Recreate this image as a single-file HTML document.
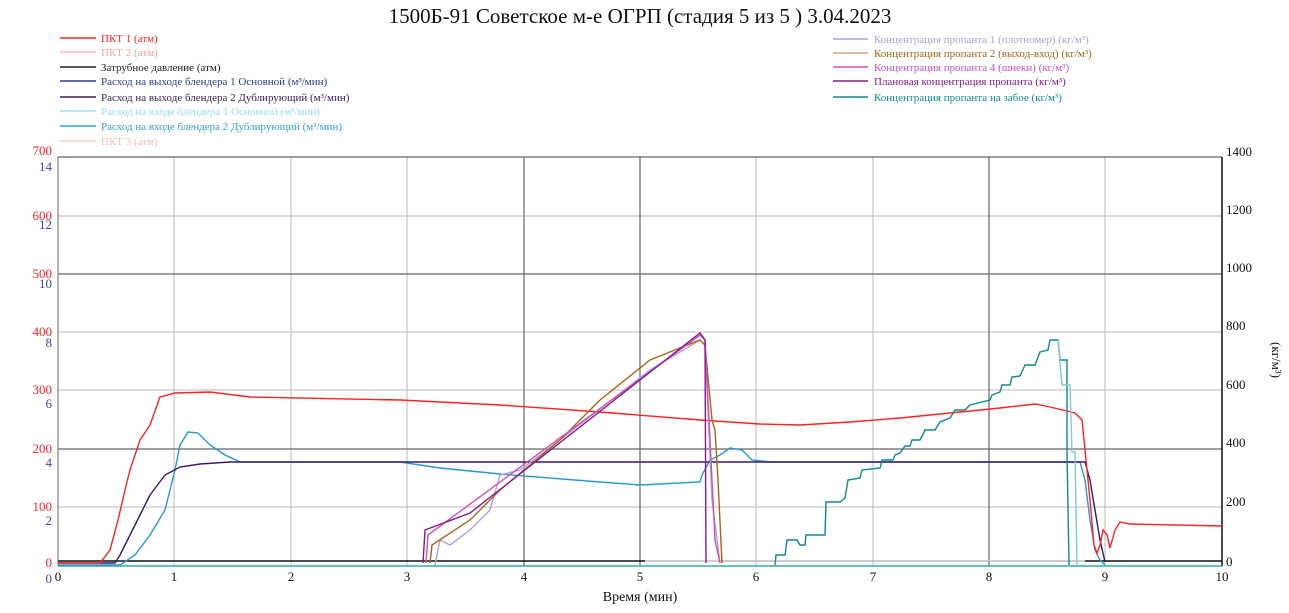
<!DOCTYPE html>
<html><head><meta charset="utf-8"><style>
body{margin:0;background:#fff;}
svg text{font-family:"Liberation Serif",serif;}
</style></head><body>
<svg width="1289" height="608" xmlns="http://www.w3.org/2000/svg">
<text x="640" y="23" font-size="21" text-anchor="middle" fill="#111">1500Б-91 Советское м-е ОГРП (стадия 5 из 5 ) 3.04.2023</text>
<g font-size="11">
<line x1="60" y1="38" x2="96" y2="38" stroke="#f22" stroke-width="1.5"/><text x="101" y="42" fill="#f22">ПКТ 1 (атм)</text>
<line x1="60" y1="52" x2="96" y2="52" stroke="#fbb" stroke-width="1.5"/><text x="101" y="56" fill="#f9a0a0">ПКТ 2 (атм)</text>
<line x1="60" y1="67" x2="96" y2="67" stroke="#222" stroke-width="1.5"/><text x="101" y="71" fill="#222">Затрубное давление (атм)</text>
<line x1="60" y1="81" x2="96" y2="81" stroke="#2b3a9a" stroke-width="1.5"/><text x="101" y="85" fill="#2b3a9a">Расход на выходе блендера 1 Основной (м³/мин)</text>
<line x1="60" y1="97" x2="96" y2="97" stroke="#3a1a5a" stroke-width="1.5"/><text x="101" y="101" fill="#3a1a5a">Расход на выходе блендера 2 Дублирующий (м³/мин)</text>
<line x1="60" y1="111" x2="96" y2="111" stroke="#9ee0ee" stroke-width="1.5"/><text x="101" y="115" fill="#9ee0ee">Расход на входе блендера 1 Основной (м³/мин)</text>
<line x1="60" y1="126" x2="96" y2="126" stroke="#3aa0d8" stroke-width="1.5"/><text x="101" y="130" fill="#3aa0d8">Расход на входе блендера 2 Дублирующий (м³/мин)</text>
<line x1="60" y1="141" x2="96" y2="141" stroke="#fcc" stroke-width="1.5"/><text x="101" y="145" fill="#fbb">ПКТ 3 (атм)</text>
<line x1="833" y1="39" x2="868" y2="39" stroke="#a9a3e0" stroke-width="1.5"/><text x="874" y="43" fill="#a9a3e0">Концентрация пропанта 1 (плотномер) (кг/м³)</text>
<line x1="833" y1="53" x2="868" y2="53" stroke="#c8a888" stroke-width="1.5"/><text x="874" y="57" fill="#a8651a">Концентрация пропанта 2 (выход-вход) (кг/м³)</text>
<line x1="833" y1="67" x2="868" y2="67" stroke="#d050b8" stroke-width="1.5"/><text x="874" y="71" fill="#d050b8">Концентрация пропанта 4 (шнеки) (кг/м³)</text>
<line x1="833" y1="81" x2="868" y2="81" stroke="#8a1a8a" stroke-width="1.5"/><text x="874" y="85" fill="#8a1a8a">Плановая концентрация пропанта (кг/м³)</text>
<line x1="833" y1="97" x2="868" y2="97" stroke="#108a8a" stroke-width="1.5"/><text x="874" y="101" fill="#108a8a">Концентрация пропанта на забое (кг/м³)</text>
</g>
<!-- grid -->
<g stroke="#bbb" stroke-width="1">
<line x1="58" y1="216" x2="1222" y2="216"/><line x1="58" y1="390" x2="1222" y2="390"/><line x1="58" y1="507" x2="1222" y2="507"/><line x1="58" y1="332" x2="1222" y2="332"/>
<line x1="174" y1="157" x2="174" y2="566"/><line x1="291" y1="157" x2="291" y2="566"/><line x1="407" y1="157" x2="407" y2="566"/><line x1="756" y1="157" x2="756" y2="566"/><line x1="873" y1="157" x2="873" y2="566"/><line x1="1105" y1="157" x2="1105" y2="566"/>
</g>
<g stroke="#666" stroke-width="1.2">
<line x1="58" y1="157" x2="1222" y2="157"/><line x1="58" y1="274" x2="1222" y2="274"/><line x1="58" y1="449" x2="1222" y2="449"/>
<line x1="524" y1="157" x2="524" y2="566"/><line x1="640" y1="157" x2="640" y2="566"/><line x1="989" y1="157" x2="989" y2="566"/>
</g>
<line x1="58" y1="157" x2="58" y2="566" stroke="#999" stroke-width="1.5"/>
<line x1="1222" y1="157" x2="1222" y2="566" stroke="#111" stroke-width="1.5"/>
<!-- left labels -->
<g font-size="13" fill="#f22" text-anchor="end">
<text x="52" y="155">700</text><text x="52" y="220">600</text><text x="52" y="278">500</text><text x="52" y="336">400</text><text x="52" y="394">300</text><text x="52" y="453">200</text><text x="52" y="511">100</text><text x="52" y="567">0</text>
</g>
<g font-size="13" fill="#3a4aa8" text-anchor="end">
<text x="52" y="171">14</text><text x="52" y="229">12</text><text x="52" y="288">10</text><text x="52" y="347">8</text><text x="52" y="408">6</text><text x="52" y="467">4</text><text x="52" y="525">2</text><text x="52" y="583">0</text>
</g>
<g font-size="13" fill="#111">
<text x="1226" y="156">1400</text><text x="1226" y="214">1200</text><text x="1226" y="272">1000</text><text x="1226" y="330">800</text><text x="1226" y="389">600</text><text x="1226" y="447">400</text><text x="1226" y="506">200</text><text x="1226" y="566">0</text>
</g>
<g font-size="13" fill="#111" text-anchor="middle">
<text x="58" y="581">0</text><text x="174" y="581">1</text><text x="291" y="581">2</text><text x="407" y="581">3</text><text x="524" y="581">4</text><text x="640" y="581">5</text><text x="756" y="581">6</text><text x="873" y="581">7</text><text x="989" y="581">8</text><text x="1105" y="581">9</text><text x="1222" y="581">10</text>
</g>
<text x="640" y="601" font-size="14" text-anchor="middle" fill="#111">Время (мин)</text>
<text transform="translate(1272,360) rotate(90)" font-size="13" text-anchor="middle" fill="#111">(кг/м³)</text>
<!-- zero lines -->
<line x1="58" y1="561" x2="645" y2="561" stroke="#111" stroke-width="1.5"/>
<line x1="645" y1="561" x2="1085" y2="561" stroke="#bbb" stroke-width="1.5"/>
<line x1="1085" y1="561" x2="1222" y2="561" stroke="#111" stroke-width="1.5"/>
<line x1="58" y1="566" x2="1222" y2="566" stroke="#3aa8a8" stroke-width="1.5"/>
<g fill="none" stroke-width="1.4">
<!-- light blue inflow -->
<polyline stroke="#2a98d0" points="58,565 120,565 135,555 150,535 165,510 175,470 180,445 188,432 198,433 210,445 225,455 240,462 400,462 440,468 500,474 600,482 640,485 700,482 702,475 710,460 720,455 730,448 742,450 752,460 770,462 1080,462 1085,480 1090,520 1095,550 1100,560 1105,565"/>
<!-- dark purple flow -->
<polyline stroke="#3a1a6a" points="58,563 115,563 120,555 130,535 140,515 150,495 165,475 180,467 200,464 230,462 1085,462 1090,480 1095,510 1100,540 1105,562"/>
<!-- red ПКТ1 -->
<polyline stroke="#f22" points="58,563 100,563 110,550 118,520 125,490 130,470 140,440 150,425 160,397 175,393 210,392 250,397 400,400 500,405 600,412 700,420 760,424 800,425 850,422 900,418 960,412 1000,408 1035,404 1050,407 1075,413 1082,420 1085,450 1090,500 1094,545 1097,553 1100,545 1103,530 1107,535 1110,548 1115,530 1120,522 1130,524 1222,526"/>
<!-- concentrations -->
<polyline stroke="#a9a3e0" points="435,565 440,540 450,545 470,530 490,510 500,475 520,470 560,440 650,370 700,340 705,345 712,500 720,563"/>
<polyline stroke="#a8651a" points="430,563 432,545 470,520 500,490 560,440 600,400 650,360 700,340 705,345 712,420 715,430 718,480 722,563"/>
<polyline stroke="#d050b8" points="426,563 428,535 700,335 705,340 715,540 720,563"/>
<polyline stroke="#8a1a8a" points="423,563 425,530 470,513 700,333 705,340 706,563"/>
<!-- teal bottom -->
<polyline stroke="#108a8a" points="775,565 776,555 785,555 787,540 797,540 800,545 805,545 806,535 825,535 826,502 840,502 845,498 848,480 860,478 862,470 880,468 882,460 893,460 895,455 900,453 905,446 910,446 912,440 920,440 925,430 935,430 940,422 950,418 955,410 965,410 970,405 990,400 992,395 1000,392 1002,385 1010,385 1012,377 1020,376 1025,365 1035,365 1040,352 1048,350 1050,340 1058,340 1060,360 1067,360 1067,452 1069,565"/>
<polyline stroke="#80cccc" points="1058,340 1062,385 1070,385 1072,452 1075,452 1077,565"/>
</g>
</svg>
</body></html>
